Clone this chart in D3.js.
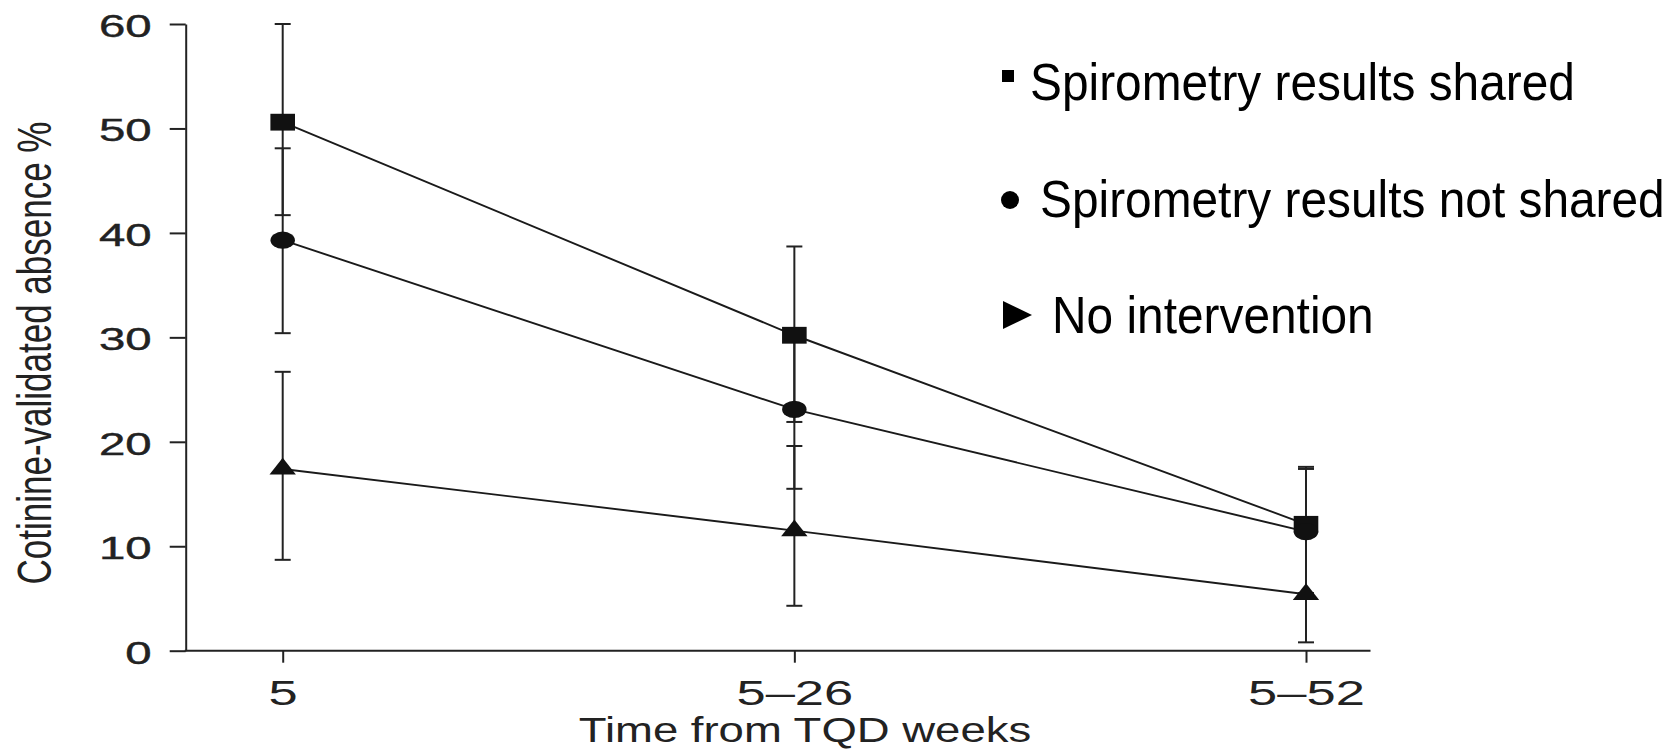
<!DOCTYPE html>
<html>
<head>
<meta charset="utf-8">
<script src="https://cdn.jsdelivr.net/npm/d3@7"></script>
<style>
  html, body { margin: 0; padding: 0; background: #ffffff; }
  svg { display: block; }
  text { font-family: "Liberation Sans", Arial, Helvetica, sans-serif; }
</style>
</head>
<body>
<svg id="chart" width="1675" height="750"></svg>
<script>
// Time points (weeks from target quit date)
const categories = ["5", "5–26", "5–52"];
const seriesNames = ["Spirometry results shared", "Spirometry results not shared", "No intervention"];

// Cotinine-validated abstinence (%) with 95% CI bounds
const sharedValues = [50.6, 30.2, 12.1];
const sharedLower = [41.7, 21.9, 5.5];
const sharedUpper = [60.0, 38.7, 17.6];

const notSharedValues = [39.3, 23.1, 11.4];
const notSharedLower = [30.4, 15.5, 5.5];
const notSharedUpper = [48.1, 30.6, 17.4];

const noInterventionValues = [17.4, 11.5, 5.4];
const noInterventionLower = [8.7, 4.3, 0.8];
const noInterventionUpper = [26.7, 19.6, 10.9];

const yTicks = [0, 10, 20, 30, 40, 50, 60];

const series = [
  { name: seriesNames[0], shape: "square", values: sharedValues, lower: sharedLower, upper: sharedUpper },
  { name: seriesNames[1], shape: "circle", values: notSharedValues, lower: notSharedLower, upper: notSharedUpper },
  { name: seriesNames[2], shape: "triangle", values: noInterventionValues, lower: noInterventionLower, upper: noInterventionUpper }
];

const svg = d3.select("#chart");
const axisColor = "#222222";

const axisLeftX = 185.7, axisRightX = 1370.5;
const x = d3.scalePoint().domain(categories).range([282.7, 1306]);
const y = d3.scaleLinear().domain([0, 60]).range([650.7, 24]);

// Y axis
const gy = svg.append("g")
  .attr("transform", `translate(${axisLeftX},0)`)
  .call(d3.axisLeft(y).tickValues(yTicks).tickSize(16).tickSizeOuter(0));
gy.select(".domain").attr("stroke", axisColor).attr("stroke-width", 2);
gy.selectAll(".tick line").attr("stroke", axisColor).attr("stroke-width", 2);
gy.selectAll(".tick text")
  .attr("x", 0).attr("dy", "0.4em")
  .attr("transform", "translate(-34,0) scale(1.53,1)")
  .attr("fill", axisColor)
  .attr("stroke", axisColor)
  .attr("stroke-width", 0.4)
  .style("font-size", "31px");

// X axis
const gx = svg.append("g")
  .attr("transform", `translate(0,${y(0)})`)
  .call(d3.axisBottom(x).tickSize(12).tickSizeOuter(0));
gx.select(".domain").remove();
gx.append("line")
  .attr("x1", axisLeftX - 1).attr("x2", axisRightX)
  .attr("y1", 0).attr("y2", 0)
  .attr("stroke", axisColor).attr("stroke-width", 2);
gx.selectAll(".tick line").attr("stroke", axisColor).attr("stroke-width", 2);
gx.selectAll(".tick text")
  .attr("y", 0).attr("dy", 0)
  .attr("transform", "translate(0,54) scale(1.5,1)")
  .attr("fill", axisColor)
  .style("font-size", "35px");
svg.selectAll(".tick text").style("font-family", "'Liberation Sans', Arial, sans-serif");

// Axis titles
svg.append("text")
  .attr("transform", "translate(805,742) scale(1.3,1)")
  .attr("text-anchor", "middle")
  .attr("fill", axisColor)
  .style("font-size", "35px")
  .text("Time from TQD weeks");

svg.append("text")
  .attr("transform", "translate(51,353) scale(1.4,1) rotate(-90)")
  .attr("text-anchor", "middle")
  .attr("fill", axisColor)
  .style("font-size", "35px")
  .text("Cotinine-validated absence %");

// Error bars
const capHalf = 8;
const errG = svg.append("g").attr("stroke", axisColor).attr("stroke-width", 2);
series.forEach(s => {
  categories.forEach((c, i) => {
    const cx = x(c);
    errG.append("line").attr("x1", cx).attr("x2", cx).attr("y1", y(s.lower[i])).attr("y2", y(s.upper[i]));
    errG.append("line").attr("x1", cx - capHalf).attr("x2", cx + capHalf).attr("y1", y(s.lower[i])).attr("y2", y(s.lower[i]));
    errG.append("line").attr("x1", cx - capHalf).attr("x2", cx + capHalf).attr("y1", y(s.upper[i])).attr("y2", y(s.upper[i]));
  });
});

// Connecting lines
const line = d3.line().x(d => x(d.c)).y(d => y(d.v));
series.forEach(s => {
  svg.append("path")
    .datum(categories.map((c, i) => ({ c, v: s.values[i] })))
    .attr("d", line)
    .attr("fill", "none")
    .attr("stroke", "#1a1a1a")
    .attr("stroke-width", 1.9);
});

// Markers
function drawMarker(g, shape, cx, cy) {
  if (shape === "square") {
    g.append("rect").attr("x", cx - 12.3).attr("y", cy - 8.4).attr("width", 24.6).attr("height", 16.8).attr("fill", "#111");
  } else if (shape === "circle") {
    g.append("ellipse").attr("cx", cx).attr("cy", cy).attr("rx", 12.2).attr("ry", 8.6).attr("fill", "#111");
  } else {
    g.append("path")
      .attr("d", `M${cx},${cy - 11.1}L${cx + 13.2},${cy + 5.6}L${cx - 13.2},${cy + 5.6}Z`)
      .attr("fill", "#111");
  }
}
const markG = svg.append("g");
series.forEach(s => {
  categories.forEach((c, i) => drawMarker(markG, s.shape, x(c), y(s.values[i])));
});

// Legend
const legend = svg.append("g");
const legendRows = [
  { baseline: 100, textX: 1030, markY: 76 },
  { baseline: 217, textX: 1040, markY: 200 },
  { baseline: 333, textX: 1052, markY: 315 }
];
series.forEach((s, i) => {
  const r = legendRows[i];
  const my = r.markY;
  if (s.shape === "square") {
    legend.append("rect").attr("x", 1002).attr("y", my - 6).attr("width", 12).attr("height", 12).attr("fill", "#000");
  } else if (s.shape === "circle") {
    legend.append("circle").attr("cx", 1010).attr("cy", my).attr("r", 9).attr("fill", "#000");
  } else {
    legend.append("path")
      .attr("d", `M1003,${my - 14}L1032,${my}L1003,${my + 14}Z`)
      .attr("fill", "#000");
  }
  legend.append("text")
    .attr("transform", `translate(${r.textX},${r.baseline}) scale(0.92,1)`)
    .attr("fill", "#000")
    .style("font-size", "52px")
    .text(s.name);
});
</script>
</body>
</html>
